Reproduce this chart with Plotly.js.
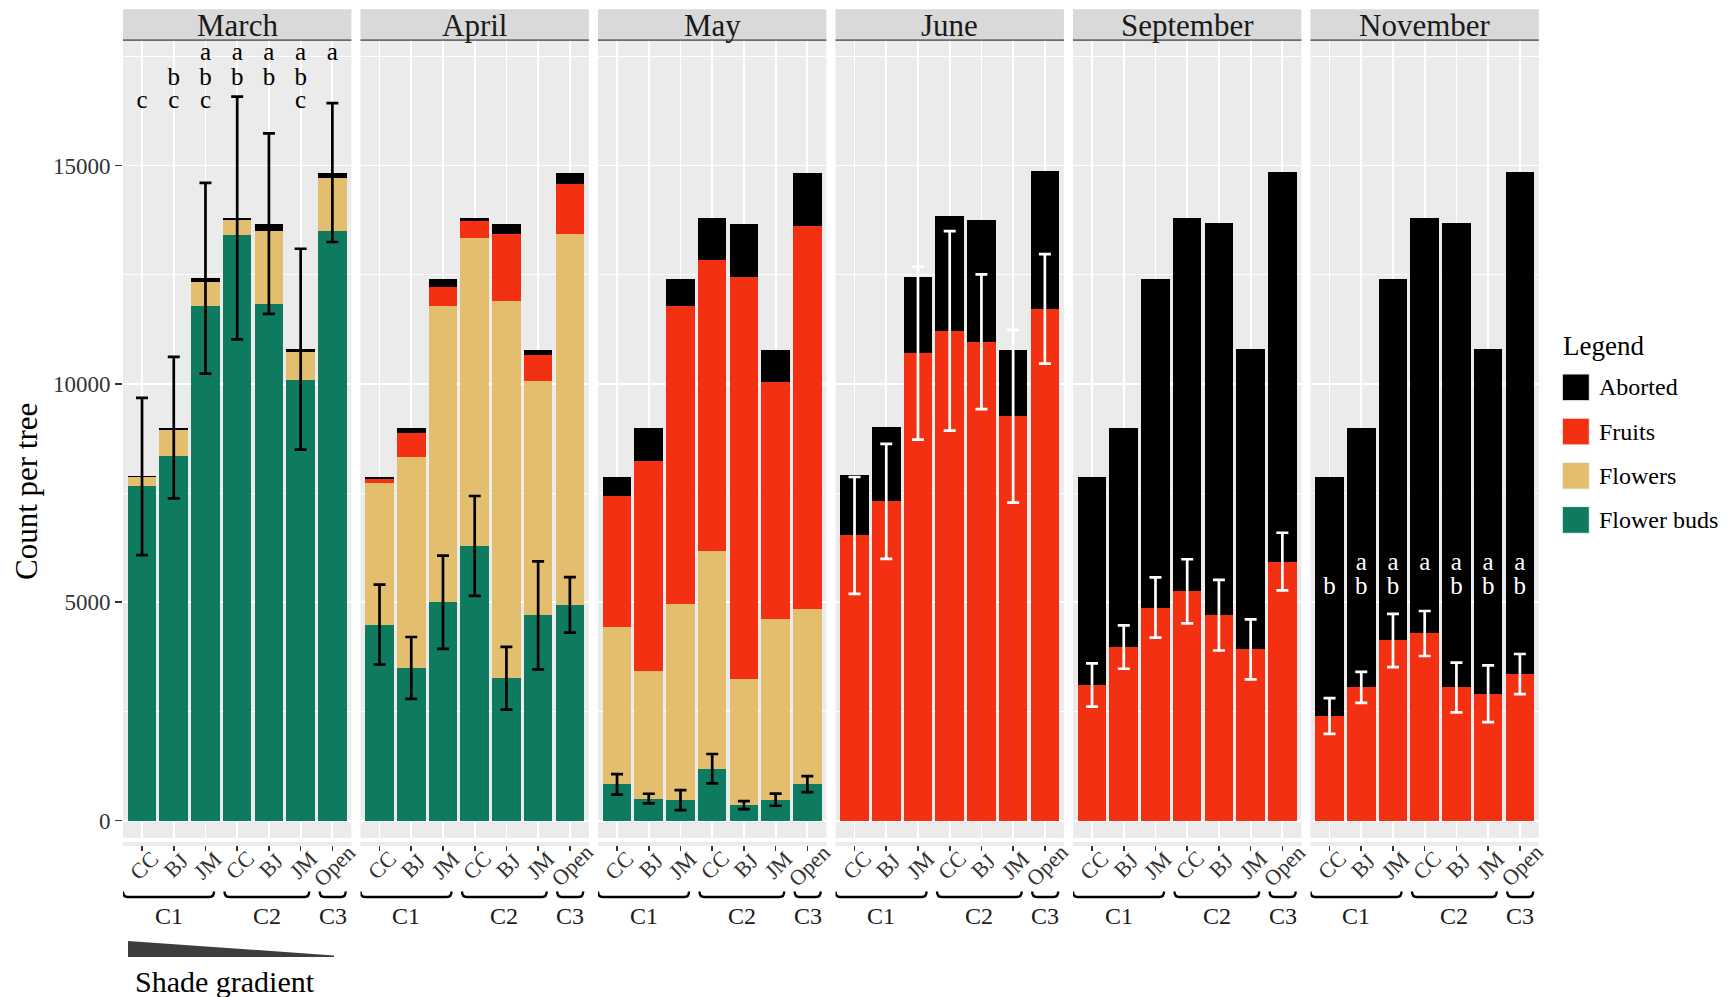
<!DOCTYPE html>
<html><head><meta charset="utf-8">
<script src="https://cdn.plot.ly/plotly-3.0.1.min.js"></script>
<style>html,body{margin:0;padding:0;background:#fff}#chart{width:1734px;height:997px}</style>
</head><body><div id="chart"></div>
<script>
// ---------- DATA ----------
const months = ['March','April','May','June','September','November'];
const categories = ['CC','BJ','JM','CC','BJ','JM','Open'];
const groups = ['C1','C1','C1','C2','C2','C2','C3'];
const seriesNames = ['Flower buds','Flowers','Fruits','Aborted'];
const yTicks = [0, 5000, 10000, 15000];

const marchBuds    = [7670, 8360, 11790, 13410, 11820, 10100, 13490];
const marchFlowers = [190, 590, 535, 350, 1690, 640, 1220];
const marchFruits  = [0, 0, 0, 0, 0, 0, 0];
const marchAborted = [20, 50, 95, 40, 160, 55, 130];
const marchErr     = [1800, 1620, 2185, 2780, 2065, 2300, 1590];

const aprilBuds    = [4490, 3495, 5000, 6290, 3260, 4700, 4940];
const aprilFlowers = [3240, 4837, 6786, 7052, 8641, 5378, 8493];
const aprilFruits  = [85, 534, 442, 388, 1532, 595, 1144];
const aprilAborted = [60, 130, 183, 60, 236, 114, 258];
const aprilErr     = [915, 709, 1068, 1143, 720, 1235, 636];

const mayBuds    = [830, 505, 470, 1190, 355, 480, 835];
const mayFlowers = [3598, 2910, 4500, 4984, 2877, 4131, 4021];
const mayFruits  = [3004, 4826, 6816, 6664, 9209, 5437, 8760];
const mayAborted = [443, 755, 625, 952, 1228, 739, 1219];
const mayErr     = [234, 110, 229, 335, 92, 140, 183];

const juneBuds    = [0, 0, 0, 0, 0, 0, 0];
const juneFlowers = [0, 0, 0, 0, 0, 0, 0];
const juneFruits  = [6530, 7310, 10705, 11215, 10965, 9260, 11720];
const juneAborted = [1391, 1708, 1736, 2630, 2788, 1527, 3145];
const juneErr     = [1338, 1316, 1982, 2284, 1544, 1979, 1254];

const septemberBuds    = [0, 0, 0, 0, 0, 0, 0];
const septemberFlowers = [0, 0, 0, 0, 0, 0, 0];
const septemberFruits  = [3105, 3975, 4880, 5250, 4703, 3920, 5932];
const septemberAborted = [4770, 5021, 7531, 8540, 8973, 6874, 8910];
const septemberErr     = [497, 497, 690, 735, 808, 686, 660];

const novemberBuds    = [0, 0, 0, 0, 0, 0, 0];
const novemberFlowers = [0, 0, 0, 0, 0, 0, 0];
const novemberFruits  = [2395, 3050, 4125, 4285, 3050, 2905, 3355];
const novemberAborted = [5480, 5946, 8286, 9505, 10626, 7889, 11487];
const novemberErr     = [410, 355, 610, 515, 570, 650, 460];

const marchLetters    = ['c', 'bc', 'abc', 'ab', 'ab', 'abc', 'a'];
const novemberLetters = ['b', 'ab', 'ab', 'a', 'ab', 'ab', 'ab'];

// ---------- STYLE / LAYOUT CONFIG ----------
const FONT = 'Liberation Serif, Times New Roman, serif';
const colors = ['#0E7A5F', '#E2BE6E', '#F33112', '#000000'];
const W = 1734, H = 997, ML = 123, MR = 195, MT = 41, MB = 159;
const PW = W - ML - MR, PH = H - MT - MB;
const panelW = 228.4, pitch = 237.5;
const yRange = [-398, 17852];
const px = v => (v - ML) / PW;
const py = v => (H - MB - v) / PH;

const panels = [
  {data:[marchBuds, marchFlowers, marchFruits, marchAborted], err: marchErr, errLevel: 3, errColor:'#000',
   letters: marchLetters, letterColor:'#000', letterRows:{a:17570, b:16998, c:16458}},
  {data:[aprilBuds, aprilFlowers, aprilFruits, aprilAborted], err: aprilErr, errLevel: 0, errColor:'#000'},
  {data:[mayBuds, mayFlowers, mayFruits, mayAborted], err: mayErr, errLevel: 0, errColor:'#000'},
  {data:[juneBuds, juneFlowers, juneFruits, juneAborted], err: juneErr, errLevel: 2, errColor:'#fff'},
  {data:[septemberBuds, septemberFlowers, septemberFruits, septemberAborted], err: septemberErr, errLevel: 2, errColor:'#fff'},
  {data:[novemberBuds, novemberFlowers, novemberFruits, novemberAborted], err: novemberErr, errLevel: 2, errColor:'#fff',
   letters: novemberLetters, letterColor:'#fff', letterRows:{a:5892, b:5342}}
];

const idx = categories.map((_, i) => i);
const traces = [];
const layout = {
  width: W, height: H, margin: {l: ML, r: MR, t: MT, b: MB, pad: 0},
  paper_bgcolor: '#fff', plot_bgcolor: '#EBEBEB',
  barmode: 'stack', showlegend: false,
  font: {family: FONT, color: '#1a1a1a'},
  shapes: [], annotations: []
};

panels.forEach((p, pi) => {
  const s = pi === 0 ? '' : String(pi + 1);
  const xa = 'x' + s, ya = 'y' + s;
  p.data.forEach((vals, k) => {
    traces.push({type: 'bar', x: idx, y: vals, xaxis: xa, yaxis: ya, width: 0.9,
      name: seriesNames[k], marker: {color: colors[k], line: {width: 0}}, hoverinfo: 'skip'});
  });
  const centers = idx.map(j => {
    let c = 0; for (let k = 0; k <= p.errLevel; k++) c += p.data[k][j]; return c;
  });
  traces.push({type: 'scatter', mode: 'markers', x: idx, y: centers, xaxis: xa, yaxis: ya,
    marker: {size: 1, color: 'rgba(0,0,0,0)'}, hoverinfo: 'skip', cliponaxis: false,
    error_y: {type: 'data', array: p.err, visible: true, color: p.errColor, thickness: 2.7, width: 6}});
  if (p.letters) {
    const lx = [], ly = [], lt = [];
    p.letters.forEach((str, j) => str.split('').forEach(ch => { lx.push(j); ly.push(p.letterRows[ch]); lt.push(ch); }));
    traces.push({type: 'scatter', mode: 'text', x: lx, y: ly, text: lt, xaxis: xa, yaxis: ya,
      textposition: 'middle center', cliponaxis: false, hoverinfo: 'skip',
      textfont: {family: FONT, size: 25, color: p.letterColor}});
  }
  const d0 = (pitch * pi) / PW, d1 = Math.min(1, (pitch * pi + panelW) / PW);
  layout['xaxis' + s] = {domain: [d0, d1], anchor: ya, range: [-0.6, 6.6], fixedrange: true,
    tickmode: 'array', tickvals: idx, ticktext: categories, showticklabels: false,
    ticks: 'outside', ticklen: 12, tickwidth: 1.6, tickcolor: '#333',
    showgrid: true, gridcolor: '#fff', gridwidth: 1.8, zeroline: false, showline: false};
  layout['yaxis' + s] = {domain: [0, 1], anchor: xa, range: yRange, fixedrange: true,
    tickmode: 'array', tickvals: yTicks, tickformat: 'd',
    ticks: pi === 0 ? 'outside' : '', ticklen: 7, tickwidth: 1.6, tickcolor: '#333',
    showticklabels: pi === 0, tickfont: {family: FONT, size: 23, color: '#333'},
    showgrid: true, gridcolor: '#fff', gridwidth: 1.8, zeroline: false, showline: false,
    minor: {tickmode: 'linear', tick0: 0, dtick: 2500, showgrid: true, gridcolor: '#fff', gridwidth: 0.9}};
  // rotated category labels, centred under each tick
  categories.forEach((c, j) => {
    layout.annotations.push({xref: xa, yref: 'paper', x: j + 0.06, y: py(865), text: c, textangle: -45,
      showarrow: false, xanchor: 'center', yanchor: 'middle', borderpad: 0,
      font: {family: FONT, size: 22, color: '#333'}});
  });
  const dref = xa + ' domain';
  // strip
  layout.shapes.push({type: 'rect', xref: dref, yref: 'paper', x0: 0, x1: 1, y0: py(41), y1: py(9.3),
    fillcolor: '#D9D9D9', line: {width: 0}, layer: 'above'});
  layout.shapes.push({type: 'line', xref: dref, yref: 'paper', x0: 0, x1: 1, y0: py(40.2), y1: py(40.2),
    line: {color: '#6b6b6b', width: 1.8}, layer: 'above'});
  layout.annotations.push({xref: dref, yref: 'paper', x: 0.5, y: py(25), text: months[pi], showarrow: false,
    xanchor: 'center', yanchor: 'middle', font: {family: FONT, size: 31, color: '#1a1a1a'}});
  // thin band below the panel
  layout.shapes.push({type: 'rect', xref: dref, yref: 'paper', x0: 0, x1: 1, y0: py(842), y1: py(838),
    fillcolor: '#fff', line: {width: 0}, layer: 'above'});
  layout.shapes.push({type: 'rect', xref: dref, yref: 'paper', x0: 0, x1: 1, y0: py(846), y1: py(842),
    fillcolor: '#EBEBEB', line: {width: 0}, layer: 'above'});
  // group braces
  const uniq = [...new Set(groups)];
  uniq.forEach((g, gi) => {
    const first = groups.indexOf(g), last = groups.lastIndexOf(g);
    const lb = gi === 0 ? -0.7 : (first + groups.lastIndexOf(uniq[gi - 1])) / 2;
    const rb = gi === uniq.length - 1 ? 6.65 : (last + groups.indexOf(uniq[gi + 1])) / 2;
    const xs = lb + 0.1, xe = rb - 0.23, dx = 0.15;
    const yt = py(891.5), yb = py(897);
    layout.shapes.push({type: 'path', xref: xa, yref: 'paper',
      path: `M ${xs},${yt} Q ${xs},${yb} ${xs + dx},${yb} L ${xe - dx},${yb} Q ${xe},${yb} ${xe},${yt}`,
      line: {color: '#000', width: 2.4}});
    layout.annotations.push({xref: xa, yref: 'paper', x: (xs + xe) / 2, y: py(916), text: g, showarrow: false,
      xanchor: 'center', yanchor: 'middle', font: {family: FONT, size: 24, color: '#1a1a1a'}});
  });
});

// y-axis title
layout.annotations.push({xref: 'paper', yref: 'paper', x: px(27), y: py(492), text: 'Count per tree',
  textangle: -90, showarrow: false, xanchor: 'center', yanchor: 'middle',
  font: {family: FONT, size: 31, color: '#000'}});

// shade gradient wedge and label
layout.shapes.push({type: 'path', xref: 'paper', yref: 'paper',
  path: `M ${px(128)},${py(941)} L ${px(334)},${py(955.5)} L ${px(334)},${py(957)} L ${px(128)},${py(957)} Z`,
  fillcolor: '#3d3d3d', line: {width: 0}});
layout.annotations.push({xref: 'paper', yref: 'paper', x: px(133), y: py(981), text: 'Shade gradient',
  showarrow: false, xanchor: 'left', yanchor: 'middle', font: {family: FONT, size: 30, color: '#000'}});

// legend (drawn from series names and colours, top = last stacked series)
layout.annotations.push({xref: 'paper', yref: 'paper', x: px(1561), y: py(346), text: 'Legend',
  showarrow: false, xanchor: 'left', yanchor: 'middle', font: {family: FONT, size: 27, color: '#000'}});
seriesNames.slice().reverse().forEach((nm, r) => {
  const k = seriesNames.length - 1 - r;
  const top = 374 + 44.2 * r;
  layout.shapes.push({type: 'rect', xref: 'paper', yref: 'paper', x0: px(1562.3), x1: px(1589.3),
    y0: py(top + 26.7), y1: py(top), fillcolor: colors[k], line: {color: '#f2f2f2', width: 1}});
  layout.annotations.push({xref: 'paper', yref: 'paper', x: px(1597), y: py(top + 13.3), text: nm,
    showarrow: false, xanchor: 'left', yanchor: 'middle', font: {family: FONT, size: 24, color: '#000'}});
});

Plotly.newPlot('chart', traces, layout, {displayModeBar: false, staticPlot: true});
</script>
</body></html>
